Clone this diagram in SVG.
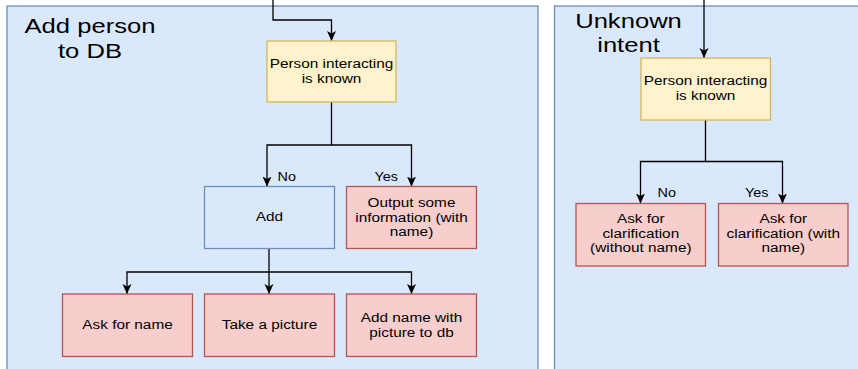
<svg xmlns="http://www.w3.org/2000/svg" width="858" height="369" viewBox="0 0 858 369">
  <style>
    text { font-family: "Liberation Sans", Arial, Helvetica, sans-serif; fill: #000; text-anchor: middle; }
    .lbl { font-size: 12px; }
    .title { font-size: 20px; }
    .edge { font-size: 12.5px; text-anchor: start; }
    .lane { fill: #dae8fc; stroke: #6c8ebf; stroke-width: 1.3; }
    .decision { fill: #fff2cc; stroke: #d6b656; stroke-width: 1.3; }
    .action { fill: #f8cecc; stroke: #b85450; stroke-width: 1.3; }
    .group { fill: #dae8fc; stroke: #6c8ebf; stroke-width: 1.3; }
    .conn { fill: none; stroke: #000; stroke-width: 1.3; }
  </style>
  <defs>
    <marker id="arrow" viewBox="0 0 10 10" refX="10" refY="5" markerWidth="10" markerHeight="10" markerUnits="userSpaceOnUse" orient="auto">
      <path d="M0,0.5 L10,5 L0,9.5 L2.5,5 z" fill="#000"/>
    </marker>
  </defs>

  <!-- swimlane containers -->
  <g id="lane-add-person">
    <rect class="lane" x="7" y="6" width="531" height="380"/>
    <text class="title" transform="translate(90,0) scale(1.28,1)" y="33.5"><tspan x="0">Add person</tspan><tspan x="0" dy="25">to DB</tspan></text>
  </g>
  <g id="lane-unknown-intent">
    <rect class="lane" x="554.5" y="6" width="320" height="380"/>
    <text class="title" transform="translate(628.5,0) scale(1.28,1)" y="28.5"><tspan x="0">Unknown</tspan><tspan x="0" dy="24">intent</tspan></text>
  </g>

  <!-- connectors -->
  <g id="connectors">
    <polyline class="conn" points="273,0 273,20 331.5,20 331.5,41" marker-end="url(#arrow)"/>
    <polyline class="conn" points="331.5,102 331.5,145 267,145 267,186.5" marker-end="url(#arrow)"/>
    <polyline class="conn" points="331.5,145 411.5,145 411.5,186.5" marker-end="url(#arrow)"/>
    <polyline class="conn" points="269,248.5 269,294" marker-end="url(#arrow)"/>
    <polyline class="conn" points="269,272 127,272 127,294" marker-end="url(#arrow)"/>
    <polyline class="conn" points="269,272 411.5,272 411.5,294" marker-end="url(#arrow)"/>
    <polyline class="conn" points="704,0 704,58" marker-end="url(#arrow)"/>
    <polyline class="conn" points="705.5,120 705.5,161.5 640.5,161.5 640.5,203.5" marker-end="url(#arrow)"/>
    <polyline class="conn" points="705.5,161.5 782.5,161.5 782.5,203.5" marker-end="url(#arrow)"/>
    <text class="edge" transform="translate(277.5,0) scale(1.15,1)" x="0" y="181.5">No</text>
    <text class="edge" transform="translate(374.5,0) scale(1.15,1)" x="0" y="181">Yes</text>
    <text class="edge" transform="translate(657.5,0) scale(1.15,1)" x="0" y="197">No</text>
    <text class="edge" transform="translate(745,0) scale(1.15,1)" x="0" y="197">Yes</text>
  </g>

  <!-- left lane nodes -->
  <g id="known-check-1">
    <rect class="decision" x="267" y="41" width="129" height="61"/>
    <text class="lbl" transform="translate(331.5,0) scale(1.28,1)" y="68"><tspan x="0">Person interacting</tspan><tspan x="0" dy="14.8">is known</tspan></text>
  </g>
  <g id="add">
    <rect class="group" x="204.5" y="186.5" width="130" height="62"/>
    <text class="lbl" transform="translate(269.5,0) scale(1.28,1)" y="221.5">Add</text>
  </g>
  <g id="output-info">
    <rect class="action" x="346.5" y="186.5" width="130" height="62"/>
    <text class="lbl" transform="translate(411.5,0) scale(1.28,1)" y="207.3"><tspan x="0">Output some</tspan><tspan x="0" dy="14.4">information (with</tspan><tspan x="0" dy="14.4">name)</tspan></text>
  </g>
  <g id="ask-name">
    <rect class="action" x="62.5" y="294" width="130" height="62.5"/>
    <text class="lbl" transform="translate(127.5,0) scale(1.28,1)" y="329.3">Ask for name</text>
  </g>
  <g id="take-picture">
    <rect class="action" x="204.5" y="294" width="130" height="62.5"/>
    <text class="lbl" transform="translate(269.5,0) scale(1.28,1)" y="329.3">Take a picture</text>
  </g>
  <g id="add-to-db">
    <rect class="action" x="346.5" y="294" width="130" height="62.5"/>
    <text class="lbl" transform="translate(411.5,0) scale(1.28,1)" y="322"><tspan x="0">Add name with</tspan><tspan x="0" dy="15">picture to db</tspan></text>
  </g>

  <!-- right lane nodes -->
  <g id="known-check-2">
    <rect class="decision" x="641" y="58" width="129.5" height="62"/>
    <text class="lbl" transform="translate(705.5,0) scale(1.28,1)" y="85.5"><tspan x="0">Person interacting</tspan><tspan x="0" dy="14.8">is known</tspan></text>
  </g>
  <g id="clarify-no-name">
    <rect class="action" x="576" y="203.5" width="129.5" height="62.5"/>
    <text class="lbl" transform="translate(640.8,0) scale(1.28,1)" y="223.3"><tspan x="0">Ask for</tspan><tspan x="0" dy="14.6">clarification</tspan><tspan x="0" dy="14.6">(without name)</tspan></text>
  </g>
  <g id="clarify-with-name">
    <rect class="action" x="718.5" y="203.5" width="129.5" height="62.5"/>
    <text class="lbl" transform="translate(783.3,0) scale(1.28,1)" y="223.3"><tspan x="0">Ask for</tspan><tspan x="0" dy="14.6">clarification (with</tspan><tspan x="0" dy="14.6">name)</tspan></text>
  </g>
</svg>
